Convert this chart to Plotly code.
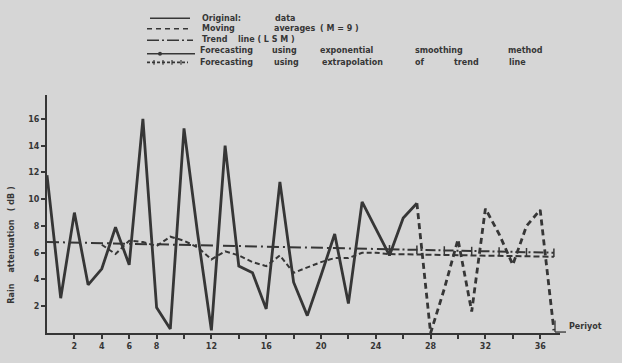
import plotly.graph_objects as go

# ---- data ----
t_orig = list(range(0, 28))
orig = [11.8, 2.6, 9.0, 3.6, 4.8, 7.9, 5.1, 16.0, 1.9, 0.3, 15.3, 7.4, 0.2, 14.0,
        5.0, 4.5, 1.8, 11.3, 3.8, 1.3, 4.3, 7.4, 2.2, 9.8, 7.8, 5.8, 8.6, 9.7]
t_cont = list(range(27, 38))
cont = [9.7, 0.0, 3.3, 7.0, 1.6, 9.3, 7.4, 5.1, 8.0, 9.2, 0.2]
t_ma = list(range(4, 26))
ma = [6.6, 5.9, 6.9, 6.8, 6.5, 7.2, 6.9, 6.4, 5.5, 6.1, 5.8, 5.3, 5.0, 5.8, 4.5,
      4.9, 5.3, 5.6, 5.6, 6.0, 6.0, 5.9]
t_trend = [0, 25]
trend = [6.8, 6.26]
t_es = [25, 37]
es_fc = [5.9, 5.7]
t_ext = [25, 27, 29, 31, 33, 35, 37]
ext_fc = [6.26, 6.22, 6.17, 6.13, 6.09, 6.04, 6.0]

x_tickvals = list(range(2, 38, 2))
x_ticktext = ["2", "4", "6", "8", "", "12", "", "16", "", "20", "", "24", "", "28", "", "32", "", "36"]
y_tickvals = [2, 4, 6, 8, 10, 12, 14, 16]

legend_words = [
    ["Original:", "data"],
    ["Moving", "averages", "( M = 9 )"],
    ["Trend", "line ( L S M )"],
    ["Forecasting", "using", "exponential", "smoothing", "method"],
    ["Forecasting", "using", "extrapolation", "of", "trend", "line"],
]
legend_word_x = [
    [200, 273],
    [200, 272, 318],
    [200, 236],
    [198, 270, 318, 413, 506],
    [198, 272, 320, 413, 452, 507],
]
y_title = "Rain" + "\u00a0" * 4 + "attenuation" + "\u00a0" * 3 + "( dB )"
x_title = "Periyot"

INK = "#363636"
BG = "#d6d6d6"
FONT = "DejaVu Sans"

# plot area geometry (pixels)
W, H = 622, 363
L, R, T, B = 47, 62, 95, 20
PW, PH = W - L - R, H - T - B


def px(x):
    return (x - L) / PW


def py(y):
    return (H - B - y) / PH


fig = go.Figure()
fig.add_trace(go.Scatter(x=t_orig, y=orig, mode="lines",
                         line=dict(color=INK, width=2.8), name="Original data"))
fig.add_trace(go.Scatter(x=t_cont, y=cont, mode="lines",
                         line=dict(color=INK, width=2.8, dash="6px,4px"), name="cont"))
fig.add_trace(go.Scatter(x=t_ma, y=ma, mode="lines",
                         line=dict(color=INK, width=2.0, dash="5px,3px"), name="MA"))
fig.add_trace(go.Scatter(x=t_trend, y=trend, mode="lines",
                         line=dict(color=INK, width=2.0, dash="12px,4px,2px,4px"), name="Trend"))
fig.add_trace(go.Scatter(x=t_es, y=es_fc, mode="lines",
                         line=dict(color=INK, width=2.0, dash="6px,3px"), name="ES"))
fig.add_trace(go.Scatter(x=t_ext, y=ext_fc, mode="lines+markers",
                         line=dict(color=INK, width=2.0, dash="10px,3px,2px,3px"),
                         marker=dict(symbol="line-ns", size=6, line=dict(color=INK, width=1.5)),
                         name="Ext"))

shapes = []
rows_y = [15, 26, 37, 49, 61]
LX0 = 147
shapes.append(dict(type="line", xref="paper", yref="paper", x0=px(LX0 + 3), x1=px(190),
                   y0=py(rows_y[0]), y1=py(rows_y[0]), line=dict(color=INK, width=1.6)))
shapes.append(dict(type="line", xref="paper", yref="paper", x0=px(LX0), x1=px(188),
                   y0=py(rows_y[1]), y1=py(rows_y[1]), line=dict(color=INK, width=1.6, dash="5px,4px")))
shapes.append(dict(type="line", xref="paper", yref="paper", x0=px(LX0), x1=px(193),
                   y0=py(rows_y[2] + 1), y1=py(rows_y[2] + 1), line=dict(color=INK, width=1.6, dash="12px,3px,2px,3px")))
shapes.append(dict(type="line", xref="paper", yref="paper", x0=px(LX0), x1=px(195),
                   y0=py(rows_y[3] + 3), y1=py(rows_y[3] + 3), line=dict(color=INK, width=1.6)))
shapes.append(dict(type="circle", xref="paper", yref="paper", x0=px(158), x1=px(162),
                   y0=py(rows_y[3] + 1), y1=py(rows_y[3] + 5), fillcolor=INK, line=dict(width=0)))
shapes.append(dict(type="line", xref="paper", yref="paper", x0=px(LX0), x1=px(188),
                   y0=py(rows_y[4]), y1=py(rows_y[4]), line=dict(color=INK, width=1.6, dash="3px,2px")))
for xx in [154, 163, 172, 181]:
    shapes.append(dict(type="line", xref="paper", yref="paper", x0=px(xx), x1=px(xx),
                       y0=py(rows_y[4] - 2.5), y1=py(rows_y[4] + 2.5), line=dict(color=INK, width=1.2)))
# small hook at the end of the x axis
shapes.append(dict(type="line", xref="paper", yref="paper", x0=px(555), x1=px(555),
                   y0=py(342), y1=py(330), line=dict(color=INK, width=1.3)))
shapes.append(dict(type="line", xref="paper", yref="paper", x0=px(555), x1=px(566),
                   y0=py(342), y1=py(342), line=dict(color=INK, width=1.3)))

annotations = []
for words, xs, yy in zip(legend_words, legend_word_x, rows_y):
    for w, xx in zip(words, xs):
        annotations.append(dict(text=w, xref="paper", yref="paper", x=px(xx), y=py(yy),
                                xanchor="left", yanchor="middle", showarrow=False,
                                font=dict(family=FONT, size=8, color=INK, weight="bold")))
annotations.append(dict(text=y_title,
                        xref="paper", yref="paper", x=px(12), y=py(252), textangle=-90,
                        xanchor="center", yanchor="middle", showarrow=False,
                        font=dict(family=FONT, size=8, color=INK, weight="bold")))
annotations.append(dict(text=x_title, xref="paper", yref="paper", x=px(567), y=py(336),
                        xanchor="left", yanchor="middle", showarrow=False,
                        font=dict(family=FONT, size=8, color=INK, weight="bold")))

fig.update_layout(
    width=W, height=H,
    margin=dict(l=L, r=R, t=T, b=B),
    paper_bgcolor=BG, plot_bgcolor=BG,
    showlegend=False,
    shapes=shapes,
    annotations=annotations,
    xaxis=dict(range=[0, PW / 13.7], tickvals=x_tickvals, ticktext=x_ticktext,
               showgrid=False, zeroline=False, showline=True, linecolor=INK, linewidth=2,
               ticks="outside", ticklen=4, tickwidth=1.5, tickcolor=INK,
               tickfont=dict(family=FONT, size=8, color=INK, weight="bold")),
    yaxis=dict(range=[0, PH / 13.94], tickvals=y_tickvals,
               showgrid=False, zeroline=False, showline=True, linecolor=INK, linewidth=2,
               ticks="outside", ticklen=4, tickwidth=1.5, tickcolor=INK,
               tickfont=dict(family=FONT, size=8, color=INK, weight="bold")),
)

fig.write_html("out.html")
